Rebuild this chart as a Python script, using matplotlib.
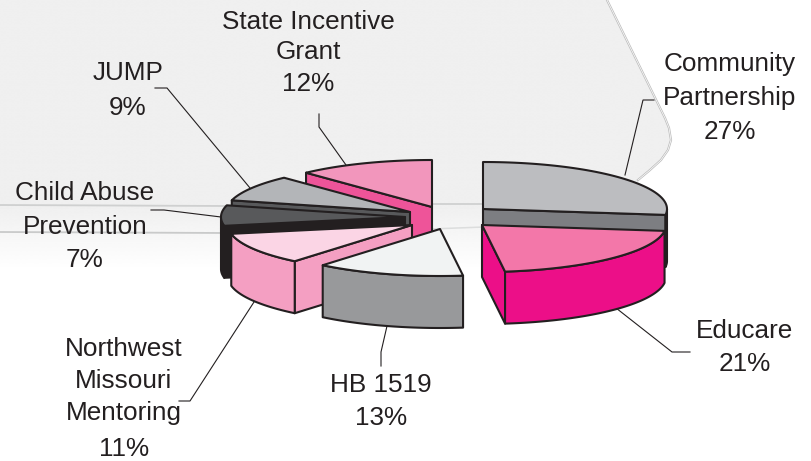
import numpy as np
import matplotlib
matplotlib.use('Agg')
import matplotlib.pyplot as plt
from matplotlib.patches import Polygon, PathPatch
from matplotlib.path import Path

# data
labels = ['Community\nPartnership', 'Educare', 'HB 1519', 'Northwest\nMissouri\nMentoring',
          'Child Abuse\nPrevention', 'JUMP', 'State Incentive\nGrant']
shares = [27, 21, 13, 11, 7, 9, 12]

# colours: top, cut face, rim
top_colors = ['#bcbdc0', '#f377a9', '#f1f3f3', '#fbd5e5', '#58595b', '#b3b5b8', '#f296bc']
cut_colors = ['#7d7e82', '#ec0f88', '#98999b', '#f49fc2', '#231f20', '#58595b', '#ee5499']
rim_colors = ['#231f20', '#ec0f88', '#98999b', '#f49fc2', '#231f20', '#58595b', '#ee5499']

# where the tip of each exploded slice sits, in pixels
tips = [(483, 209), (482, 225), (440, 229), (412, 225), (405, 217), (410, 212), (432, 207)]
draw_order = [6, 5, 4, 0, 3, 2, 1]

RX, RY, DEPTH = 184, 47, 52
EDGE = '#231f20'

# label placement: centre x, centre y, line spacing
label_pos = [(730, 81, 1.56), (745, 331, 1.0), (381, 385, 1.0), (124, 381, 1.41),
             (85, 210, 1.56), (128, 73, 1.0), (308, 37, 1.34)]
percent_y = [132, 364, 418, 449, 260, 108, 84]
leaders = [
    [(625, 175), (643, 100), (654, 100)],
    [(616, 308), (672, 352), (690, 352)],
    [(387, 326), (381, 352), (381, 366)],
    [(254, 302), (190, 401), (179, 401)],
    [(221, 217), (164, 210), (151, 210)],
    [(250, 188), (167, 88), (155, 88)],
    [(346, 165), (319, 127), (319, 114)],
]


def rim_point(tip, angle, drop=0):
    # angle runs clockwise from 12 o'clock, in degrees
    a = np.radians(angle)
    return tip[0] + RX * np.sin(a), tip[1] - RY * np.cos(a) + drop


def arc(tip, a0, a1, drop=0):
    angles = np.linspace(a0, a1, 60)
    return [rim_point(tip, t, drop) for t in angles]


def draw_background(ax):
    edge = [(607, 0), (665, 118), (669, 128), (671, 140), (668, 150), (661, 160),
            (650, 170), (638, 180)]
    outline = edge + [(640, 200), (625, 268), (0, 268), (0, 0)]
    fade = np.ones((300, 2, 4))
    fade[:, :, :3] = 240 / 255
    ys = np.linspace(0, 268, 300)
    fade[:, :, 3] = np.clip((268 - ys) / 62, 0, 1)[:, None]
    im = ax.imshow(fade, extent=(0, 812, 268, 0), aspect='auto', zorder=0,
                   interpolation='bilinear')
    im.set_clip_path(PathPatch(Path(outline + [outline[0]]), transform=ax.transData))

    # double outline on the right of the panel
    xs, ys = zip(*edge)
    ax.plot(xs, ys, color='#bdbdbd', lw=1.6, zorder=1)
    ax.plot(xs, ys, color='white', lw=0.5, zorder=1)

    # thin bands that run behind the pie
    ax.plot([0, 225], [205, 206], color='#cfd0d0', lw=1.3, zorder=1)
    ax.plot([430, 484], [204, 204], color='#cfd0d0', lw=1.3, zorder=1)
    ax.plot([0, 225], [232, 233], color='#c9caca', lw=1.3, zorder=1)
    ax.plot([430, 484], [229, 227], color='#dcdddd', lw=1.1, zorder=1)


def draw_slice(ax, i, a0, a1):
    tip = tips[i]
    kw = dict(edgecolor=EDGE, lw=1.5, joinstyle='round', zorder=3 + draw_order.index(i))

    # only the cut faces turned towards the viewer show
    for cut, visible in ((a0, np.sin(np.radians(a0)) < -1e-6), (a1, np.sin(np.radians(a1)) > 1e-6)):
        if visible:
            p = rim_point(tip, cut)
            quad = [tip, p, (p[0], p[1] + DEPTH), (tip[0], tip[1] + DEPTH)]
            ax.add_patch(Polygon(quad, facecolor=cut_colors[i], **kw))

    # front part of the rim
    r0, r1 = max(a0, 90), min(a1, 270)
    if r1 > r0:
        ax.add_patch(Polygon(arc(tip, r0, r1) + arc(tip, r0, r1, DEPTH)[::-1],
                             facecolor=rim_colors[i], **kw))

    ax.add_patch(Polygon([tip] + arc(tip, a0, a1), facecolor=top_colors[i], **kw))


fig = plt.figure(figsize=(8.12, 4.61), dpi=100)
ax = fig.add_axes([0, 0, 1, 1])
draw_background(ax)

edges = np.concatenate([[0], np.cumsum(shares)]) * 360 / sum(shares)
for i in draw_order:
    draw_slice(ax, i, edges[i], edges[i + 1])

for path in leaders:
    xs, ys = zip(*path)
    ax.plot(xs, ys, color=EDGE, lw=0.8, zorder=2, solid_joinstyle='miter')

for name, share, pos, py in zip(labels, shares, label_pos, percent_y):
    ax.text(pos[0], pos[1], name, ha='center', va='center', ma='center', fontsize=18.8,
            family='Liberation Sans', color='#231f20', linespacing=pos[2], zorder=20)
    ax.text(pos[0], py, f'{share}%', ha='center', va='center', fontsize=18.8,
            family='Liberation Sans', color='#231f20', zorder=20)

ax.set_xlim(0, 812)
ax.set_ylim(461, 0)
ax.axis('off')
fig.savefig('out.png', dpi=100, facecolor='white')
